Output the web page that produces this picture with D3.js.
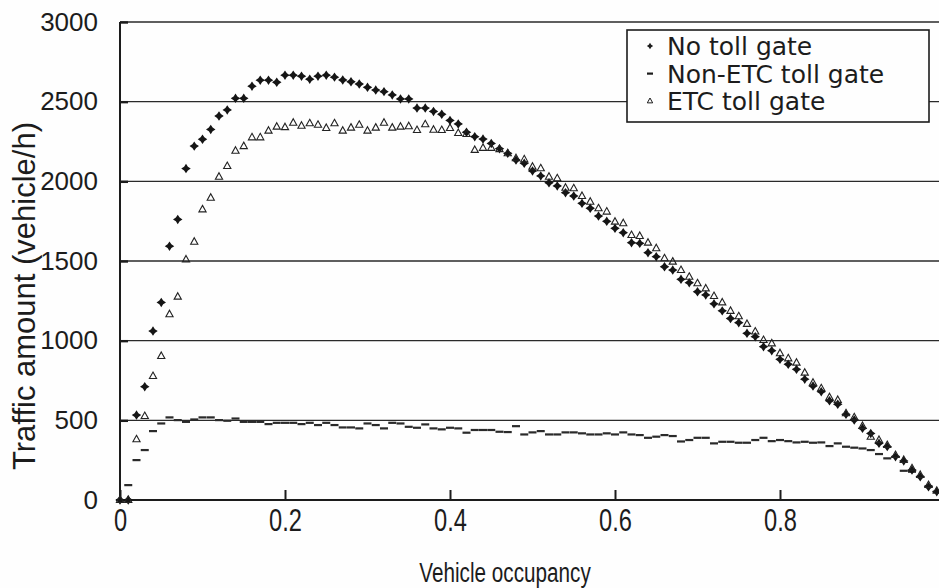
<!DOCTYPE html>
<html>
<head>
<meta charset="utf-8">
<script src="https://cdn.jsdelivr.net/npm/d3@7"></script>
<style>
body { margin: 0; background: #fff; }
svg { display: block; }
.tick text { fill: #1c1c1c; }
</style>
</head>
<body>
<div class="canvas"></div>
<script>
// occupancy steps (x) and the three traffic amount series (vehicle/h)
const occupancy = [
    0.00, 0.01, 0.02, 0.03, 0.04, 0.05, 0.06, 0.07, 0.08, 0.09,
    0.10, 0.11, 0.12, 0.13, 0.14, 0.15, 0.16, 0.17, 0.18, 0.19,
    0.20, 0.21, 0.22, 0.23, 0.24, 0.25, 0.26, 0.27, 0.28, 0.29,
    0.30, 0.31, 0.32, 0.33, 0.34, 0.35, 0.36, 0.37, 0.38, 0.39,
    0.40, 0.41, 0.42, 0.43, 0.44, 0.45, 0.46, 0.47, 0.48, 0.49,
    0.50, 0.51, 0.52, 0.53, 0.54, 0.55, 0.56, 0.57, 0.58, 0.59,
    0.60, 0.61, 0.62, 0.63, 0.64, 0.65, 0.66, 0.67, 0.68, 0.69,
    0.70, 0.71, 0.72, 0.73, 0.74, 0.75, 0.76, 0.77, 0.78, 0.79,
    0.80, 0.81, 0.82, 0.83, 0.84, 0.85, 0.86, 0.87, 0.88, 0.89,
    0.90, 0.91, 0.92, 0.93, 0.94, 0.95, 0.96, 0.97, 0.98, 0.99
]

const noTollGate = [
    0, 0, 533, 711, 1060, 1240, 1593, 1761, 2080, 2221,
    2264, 2326, 2410, 2448, 2521, 2521, 2597, 2635, 2635, 2622,
    2666, 2666, 2660, 2641, 2660, 2666, 2654, 2636, 2625, 2611,
    2590, 2573, 2563, 2542, 2517, 2517, 2460, 2460, 2439, 2421,
    2382, 2360, 2308, 2280, 2265, 2238, 2205, 2176, 2134, 2113,
    2065, 2034, 1991, 1971, 1929, 1908, 1862, 1831, 1782, 1749,
    1705, 1678, 1615, 1611, 1552, 1527, 1464, 1443, 1385, 1364,
    1307, 1287, 1231, 1187, 1139, 1113, 1046, 1025, 962, 937,
    883, 852, 820, 758, 715, 680, 623, 601, 538, 502,
    450, 418, 356, 335, 272, 245, 188, 146, 83, 52
]

const nonEtcGate = [
    0, 94, 251, 314, 433, 481, 519, 502, 491, 506,
    519, 519, 502, 498, 512, 491, 491, 491, 477, 485,
    485, 485, 477, 485, 471, 485, 471, 456, 456, 450,
    481, 471, 450, 485, 481, 460, 454, 475, 450, 444,
    454, 450, 423, 440, 440, 440, 429, 427, 464, 412,
    425, 433, 412, 412, 425, 425, 419, 412, 412, 419,
    412, 425, 412, 408, 391, 398, 408, 402, 368, 377,
    391, 391, 356, 366, 366, 360, 360, 377, 391, 370,
    377, 370, 362, 366, 360, 362, 339, 356, 335, 329,
    324, 314, 289, 262, 272, 184, 178, 146, 88, 52
]

const etcGate = [
    0, 0, 381, 527, 778, 904, 1166, 1276, 1510, 1621,
    1824, 1897, 2029, 2096, 2192, 2221, 2276, 2276, 2318, 2343,
    2340, 2368, 2349, 2364, 2355, 2335, 2364, 2318, 2337, 2355,
    2318, 2337, 2368, 2337, 2343, 2346, 2322, 2358, 2324, 2322,
    2335, 2303, 2297, 2197, 2210, 2210, 2202, 2176, 2145, 2138,
    2092, 2082, 2029, 2019, 1960, 1956, 1908, 1872, 1831, 1810,
    1747, 1737, 1663, 1657, 1615, 1580, 1517, 1496, 1443, 1401,
    1360, 1328, 1280, 1240, 1187, 1153, 1105, 1057, 1004, 983,
    921, 889, 862, 799, 736, 701, 645, 628, 544, 519,
    465, 397, 377, 345, 282, 251, 199, 157, 94, 58
]

const seriesNames = ['No toll gate', 'Non-ETC toll gate', 'ETC toll gate']
const xTicks = [0, 0.2, 0.4, 0.6, 0.8]
const yTicks = [0, 500, 1000, 1500, 2000, 2500, 3000]

const dims = {
    width: 939,
    height: 588
}

const plot = {
    left: 120,
    top: 22,
    bottom: 500,
    right: 945
}

const ink = '#1c1c1c'
const sans = '"Liberation Sans", Arial, sans-serif'

const svg = d3.select('.canvas')
    .append('svg')
    .attr('width', dims.width)
    .attr('height', dims.height)
    .style('background', '#fefefe')

const x = d3.scaleLinear().domain([0, 1]).range([plot.left, plot.right])
const y = d3.scaleLinear().domain([0, 3000]).range([plot.bottom, plot.top])

// marker shapes
const starType = {
    draw(ctx, size) {
        const r = Math.sqrt(size) / 2
        const k = r * 0.4
        ctx.moveTo(0, -r)
        ctx.lineTo(k, -k)
        ctx.lineTo(r, 0)
        ctx.lineTo(k, k)
        ctx.lineTo(0, r)
        ctx.lineTo(-k, k)
        ctx.lineTo(-r, 0)
        ctx.lineTo(-k, -k)
        ctx.closePath()
    }
}

const triType = {
    draw(ctx, size) {
        const r = Math.sqrt(size) / 2
        ctx.moveTo(0, -r)
        ctx.lineTo(r * 0.9, r * 0.62)
        ctx.lineTo(-r * 0.9, r * 0.62)
        ctx.closePath()
    }
}

const star = d3.symbol().type(starType).size(90)
const tri = d3.symbol().type(triType).size(64)

// gridlines and frame
svg.append('g')
    .selectAll('line')
    .data(yTicks.filter(d => d > 0))
    .enter()
    .append('line')
        .attr('x1', plot.left)
        .attr('x2', dims.width)
        .attr('y1', d => y(d))
        .attr('y2', d => y(d))
        .attr('stroke', '#2a2a2a')
        .attr('stroke-width', 1.4)

svg.append('line')
    .attr('x1', plot.left).attr('x2', dims.width)
    .attr('y1', y(0)).attr('y2', y(0))
    .attr('stroke', ink).attr('stroke-width', 2.2)

svg.append('line')
    .attr('x1', plot.left).attr('x2', plot.left)
    .attr('y1', y(3000)).attr('y2', y(0))
    .attr('stroke', ink).attr('stroke-width', 2)

// axes
const yAxis = d3.axisLeft(y)
    .tickValues(yTicks)
    .tickSize(-8)
    .tickPadding(22)
    .tickFormat(d3.format('d'))

const yAxisGroup = svg.append('g')
    .attr('transform', `translate(${plot.left}, 0)`)
    .call(yAxis)

yAxisGroup.select('.domain').remove()
yAxisGroup.selectAll('line').attr('stroke', ink).attr('stroke-width', 2.4)
yAxisGroup.selectAll('text')
    .attr('font-family', sans)
    .attr('font-size', 26)

const xAxis = d3.axisBottom(x)
    .tickValues(xTicks)
    .tickSize(-10)
    .tickPadding(8)
    .tickFormat(d => d === 0 ? '0' : d3.format('.1f')(d))

const xAxisGroup = svg.append('g')
    .attr('transform', `translate(0, ${plot.bottom})`)
    .call(xAxis)

xAxisGroup.select('.domain').remove()
xAxisGroup.selectAll('line').attr('stroke', ink).attr('stroke-width', 2)
// condensed look of the x labels
xAxisGroup.selectAll('text')
    .attr('font-family', sans)
    .attr('font-size', 32)
    .attr('transform', 'scale(0.74, 1)')

// axis titles
svg.append('text')
    .attr('transform', `translate(35, 296) rotate(-90)`)
    .attr('text-anchor', 'middle')
    .attr('font-family', sans)
    .attr('font-size', 31)
    .attr('fill', ink)
    .text('Traffic amount (vehicle/h)')

svg.append('g')
    .attr('transform', 'translate(505, 582) scale(0.74, 1)')
    .append('text')
        .attr('text-anchor', 'middle')
        .attr('font-family', sans)
        .attr('font-size', 28)
        .attr('fill', ink)
        .text('Vehicle occupancy')

// series
const graph = svg.append('g')

const rows = occupancy.map((o, i) => ({
    occ: o,
    none: noTollGate[i],
    nonEtc: nonEtcGate[i],
    etc: etcGate[i]
}))

graph.append('g')
    .selectAll('rect')
    .data(rows)
    .enter()
    .append('rect')
        .attr('x', d => x(d.occ) - 4)
        .attr('y', d => y(d.nonEtc) - 1)
        .attr('width', 8)
        .attr('height', 2.2)
        .attr('fill', '#2a2a2a')

graph.append('g')
    .selectAll('path')
    .data(rows)
    .enter()
    .append('path')
        .attr('transform', d => `translate(${x(d.occ)}, ${y(d.none)})`)
        .attr('d', star)
        .attr('fill', '#151515')

graph.append('g')
    .selectAll('path')
    .data(rows)
    .enter()
    .append('path')
        .attr('transform', d => `translate(${x(d.occ)}, ${y(d.etc)})`)
        .attr('d', tri)
        .attr('fill', 'none')
        .attr('stroke', '#222')
        .attr('stroke-width', 1.1)

// legend
const legend = svg.append('g')

legend.append('rect')
    .attr('x', 627)
    .attr('y', 30)
    .attr('width', 302)
    .attr('height', 92)
    .attr('fill', '#fefefe')
    .attr('stroke', ink)
    .attr('stroke-width', 1.6)

const legendItems = legend.selectAll('.item')
    .data(seriesNames)
    .enter()
    .append('g')
        .attr('class', 'item')
        .attr('transform', (d, i) => `translate(650, ${46 + i * 27.5})`)

legendItems.append('text')
    .attr('x', 17)
    .attr('dy', '0.36em')
    .attr('font-family', '"DejaVu Sans", sans-serif')
    .attr('font-size', 25)
    .attr('fill', ink)
    .text(d => d)

legendItems.filter((d, i) => i === 0)
    .append('path')
    .attr('d', d3.symbol().type(starType).size(40))
    .attr('fill', ink)

legendItems.filter((d, i) => i === 1)
    .append('rect')
    .attr('x', -3).attr('y', -1).attr('width', 6).attr('height', 2.2)
    .attr('fill', ink)

legendItems.filter((d, i) => i === 2)
    .append('path')
    .attr('d', d3.symbol().type(triType).size(36))
    .attr('fill', 'none')
    .attr('stroke', ink)
    .attr('stroke-width', 1)
</script>
</body>
</html>
